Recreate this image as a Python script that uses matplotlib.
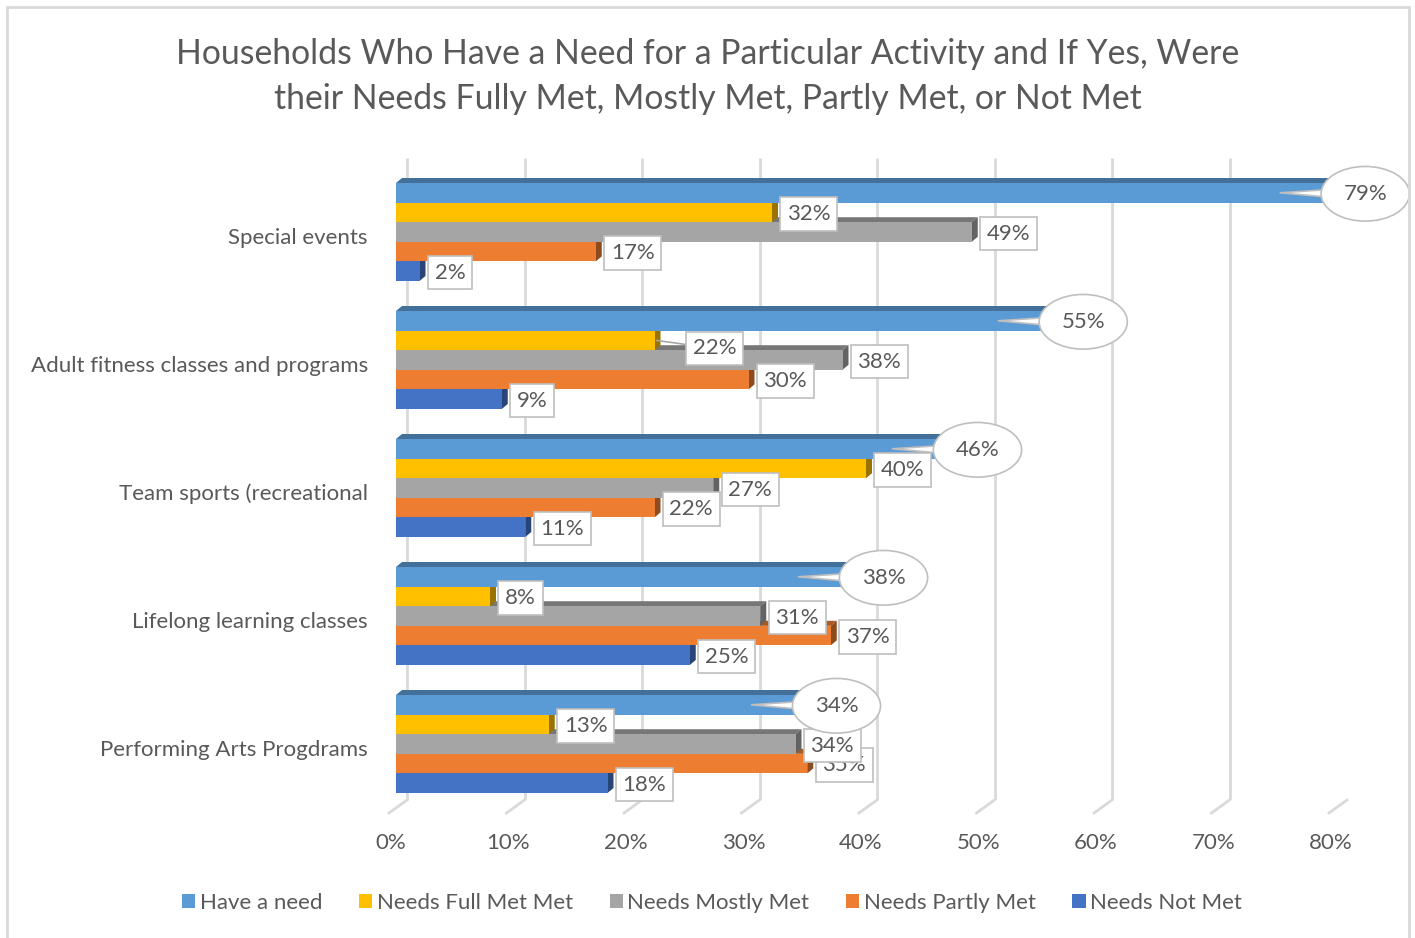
import matplotlib
matplotlib.use("Agg")
import matplotlib.pyplot as plt
from matplotlib.patches import Rectangle, Polygon
from matplotlib.colors import to_rgb

plt.rcParams['font.family'] = ['Lato', 'DejaVu Sans']

categories = ["Special events", "Adult fitness classes and programs",
              "Team sports (recreational", "Lifelong learning classes",
              "Performing Arts Progdrams"]
series = ["Have a need", "Needs Full Met Met", "Needs Mostly Met",
          "Needs Partly Met", "Needs Not Met"]
have_need = [79, 55, 46, 38, 34]
full_met = [32, 22, 40, 8, 13]
mostly_met = [49, 38, 27, 31, 34]
partly_met = [17, 30, 22, 37, 35]
not_met = [2, 9, 11, 25, 18]
xticks = [0, 10, 20, 30, 40, 50, 60, 70, 80]

values = [have_need, full_met, mostly_met, partly_met, not_met]
colors = ["#5B9BD5", "#FFC000", "#A5A5A5", "#ED7D31", "#4472C4"]
text_col = "#595959"
grid_col = "#D9D9D9"
fs = 16

W, H = 1415, 938
fig = plt.figure(figsize=(W / 100, H / 100), dpi=100)

# chart frame
fig.add_artist(Rectangle((7 / W, -0.05), 1402 / W, 1.05 - 7 / H, transform=fig.transFigure,
                         fill=False, ec=grid_col, lw=2))

# plot area: x front plane 396..1336 px, y 150..800 px
ax_l, ax_r, ax_t, ax_b = 396, 1336, 150, 800
ax = fig.add_axes([ax_l / W, 1 - ax_b / H, (ax_r - ax_l) / W, (ax_b - ax_t) / H])
ax.set_xlim(0, 80)
pitch = 128.0
ylo, yhi = (ax_t - 232) / pitch, (ax_b - 232) / pitch
ax.set_ylim(yhi, ylo)
ax.axis("off")

px = 80 / (ax_r - ax_l)   # one pixel in x data units
py = 1 / pitch            # one pixel in y data units (axis inverted)

# back wall gridlines and floor
for v in xticks:
    gx = v + 11 * px
    ax.plot([gx, gx], [(158 - 232) / pitch, yhi], color=grid_col, lw=2, zorder=0,
            solid_capstyle="butt")
    ax.plot([gx, v - 7 * px], [yhi, yhi + 13 * py], color=grid_col, lw=2, zorder=0,
            clip_on=False)
    ax.text(v - 5 * px, yhi + 43 * py, f"{v}%", ha="center", va="center",
            fontsize=fs, color=text_col, clip_on=False)


def shade(c, f):
    r, g, b = to_rgb(c)
    return (r * f, g * f, b * f)


bar_h = 19.6 * py
dx, dy = 6 * px, 5 * py
for i, cat in enumerate(categories):
    top = i - 49 * py
    ax.text(-28 * px, i + 6 * py, cat, ha="right", va="center", fontsize=fs,
            color=text_col, clip_on=False)
    # draw lower bars first so upper bars hide their top faces
    for k in range(len(series) - 1, -1, -1):
        v = values[k][i]
        y0 = top + k * bar_h
        y1 = y0 + bar_h
        z = 2 + (len(series) - k)
        ax.add_patch(Polygon([(0, y0), (v, y0), (v + dx, y0 - dy), (dx, y0 - dy)],
                             closed=True, fc=shade(colors[k], 0.72), ec="none", zorder=z))
        ax.add_patch(Polygon([(v, y0), (v, y1), (v + dx, y1 - dy), (v + dx, y0 - dy)],
                             closed=True, fc=shade(colors[k], 0.6), ec="none", zorder=z))
        ax.add_patch(Rectangle((0, y0), v, bar_h, fc=colors[k], ec="none", zorder=z))

        yc = (y0 + y1) / 2
        if k == 0:
            ax.annotate(f"{v}%", xy=(v - 44 * px, yc), xytext=(v + 41 * px, yc + 1 * py),
                        ha="center", va="center", fontsize=fs, color=text_col,
                        zorder=30,
                        bbox=dict(boxstyle="ellipse,pad=0.42", fc="white",
                                  ec="#BFBFBF", lw=1.2),
                        arrowprops=dict(arrowstyle="wedge,tail_width=0.6",
                                        fc="white", ec="#BFBFBF", lw=1.2,
                                        patchA=None, shrinkA=0, shrinkB=0))
        else:
            lx, ly = v + 15 * px, yc + 1.5 * py
            arrow = None
            if i == 1 and k == 1:
                # label pushed aside, joined to its bar by a leader line
                lx, ly = v + 38 * px, yc + 8 * py
                arrow = dict(arrowstyle="-", color="#A6A6A6", lw=1.2,
                             shrinkA=0, shrinkB=0)
            ax.annotate(f"{v}%", xy=(v + 2 * px, yc), xytext=(lx, ly),
                        ha="left", va="center", fontsize=fs, color=text_col,
                        zorder=25 - k,
                        bbox=dict(boxstyle="square,pad=0.3", fc="white",
                                  ec="#BFBFBF", lw=1.2),
                        arrowprops=arrow)

fig.text(708 / W, 1 - 76.5 / H,
         "Households Who Have a Need for a Particular Activity and If Yes, Were\n"
         "their Needs Fully Met, Mostly Met, Partly Met, or Not Met",
         ha="center", va="center", fontsize=24.3, color=text_col, linespacing=1.5)

handles = [Rectangle((0, 0), 1, 1, fc=c, ec="none") for c in colors]
fig.legend(handles, series, loc="center", bbox_to_anchor=(712 / W, 1 - 903 / H),
           ncol=5, frameon=False, fontsize=fs, labelcolor=text_col,
           handlelength=0.6, handleheight=0.6, handletextpad=0.2,
           columnspacing=1.65)

fig.savefig("out.png", dpi=100, facecolor="white")
